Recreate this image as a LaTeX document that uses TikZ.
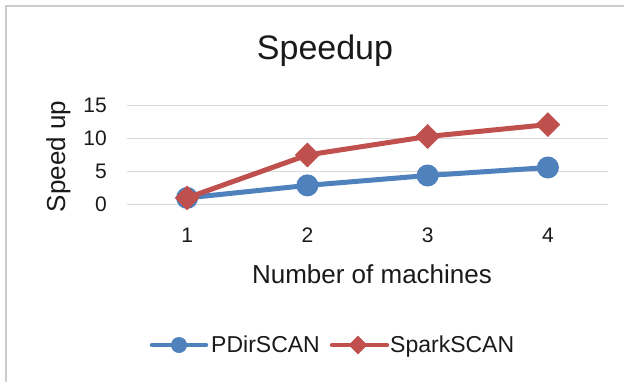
\documentclass[tikz,border=0pt]{standalone}
\usepackage{fontspec}
\setmainfont{Liberation Sans}
\usetikzlibrary{shapes.geometric}
\definecolor{serblue}{HTML}{4F81BD}
\definecolor{serred}{HTML}{C0504D}
\definecolor{gridgray}{HTML}{D9D9D9}
\definecolor{framegray}{HTML}{CCCCCC}
\definecolor{txt}{HTML}{1A1A1A}
\begin{document}
\begin{tikzpicture}[x=1pt,y=-1pt,
  gridline/.style={gridgray,line width=1.5pt},
  ticklbl/.style={inner sep=0pt,font=\fontsize{21}{25}\selectfont,text=txt},
  axtitle/.style={inner sep=0pt,font=\fontsize{26}{30}\selectfont,text=txt},
  legtext/.style={inner sep=0pt,font=\fontsize{23}{27}\selectfont,text=txt},
  bluemark/.style={circle,fill=serblue,inner sep=0pt,minimum size=22pt},
  redmark/.style={diamond,fill=serred,inner sep=0pt,minimum width=25pt,minimum height=25pt},
  serline/.style={line width=5pt,line join=round,line cap=round}]
\useasboundingbox (0,0) rectangle (624,381);
\fill[white] (0,0) rectangle (624,381);
% chart frame
\coordinate (fbl) at (6,382);
\coordinate (ftl) at (6,6);
\coordinate (ftr) at (625,6);
\draw[framegray,line width=2pt] (fbl) -- (ftl) -- (ftr);
% title
\node[inner sep=0pt,font=\fontsize{34}{40}\selectfont,text=txt,anchor=base] (title) at (325,59) {Speedup};
% gridlines and y tick labels
\foreach \v/\yy in {0/204.5,5/171.5,10/138.5,15/105.5}{
  \coordinate (gl\v) at (127,\yy);
  \coordinate (gr\v) at (608,\yy);
  \draw[gridline] (gl\v) -- (gr\v);
  \node[ticklbl,anchor=east] (yt\v) at (107,\yy) {\v};
}
% x tick labels
\foreach \i/\xx in {1/187.1,2/307.4,3/427.6,4/547.9}{
  \node[ticklbl] (xt\i) at (\xx,235) {\i};
}
% axis titles
\node[axtitle,anchor=base] (xtitle) at (372,283) {Number of machines};
\node[axtitle,rotate=90] (ytitle) at (58.5,156.5) {Speed up};
% data coordinates
\coordinate (b1) at (187.1,197.9);
\coordinate (b2) at (307.4,185.4);
\coordinate (b3) at (427.6,175.5);
\coordinate (b4) at (547.9,167.5);
\coordinate (r1) at (187.1,197.9);
\coordinate (r2) at (307.4,155.0);
\coordinate (r3) at (427.6,136.5);
\coordinate (r4) at (547.9,124.6);
% PDirSCAN
\draw[serline,serblue] (b1) -- (b2) -- (b3) -- (b4);
\foreach \i in {1,2,3,4}{\node[bluemark] (bm\i) at (b\i) {};}
% SparkSCAN
\draw[serline,serred] (r1) -- (r2) -- (r3) -- (r4);
\foreach \i in {1,2,3,4}{\node[redmark] (rm\i) at (r\i) {};}
% legend
\coordinate (lb1) at (152,345);
\coordinate (lb2) at (206,345);
\draw[serblue,line width=4.5pt,line cap=round] (lb1) -- (lb2);
\node[circle,fill=serblue,inner sep=0pt,minimum size=16pt] (lbm) at (179,345) {};
\node[legtext,anchor=base west] (lbt) at (211,352) {PDirSCAN};
\coordinate (lr1) at (332,345);
\coordinate (lr2) at (387,345);
\draw[serred,line width=4.5pt,line cap=round] (lr1) -- (lr2);
\node[diamond,fill=serred,inner sep=0pt,minimum width=19pt,minimum height=19pt] (lrm) at (358,345) {};
\node[legtext,anchor=base west] (lrt) at (390,352) {SparkSCAN};
\end{tikzpicture}
\end{document}
